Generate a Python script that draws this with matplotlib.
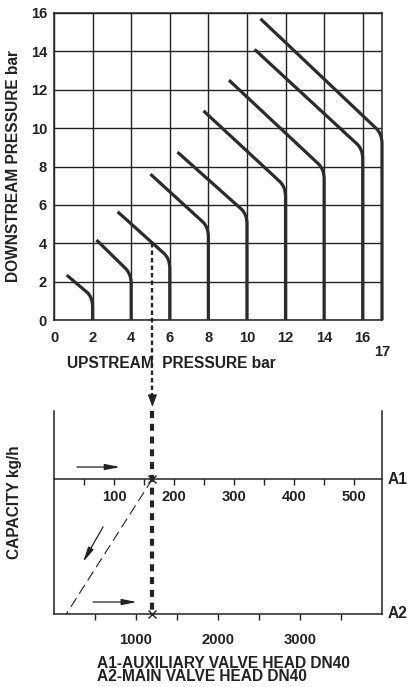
import matplotlib
matplotlib.use('Agg')
import matplotlib.pyplot as plt
import numpy as np
from matplotlib.path import Path
from matplotlib.patches import PathPatch
from matplotlib import transforms

plt.rcParams['font.family'] = ['Liberation Sans', 'DejaVu Sans']
plt.rcParams['font.weight'] = 'bold'
plt.rcParams['lines.scale_dashes'] = False

# ---------------- data ----------------
upstream = [2, 4, 6, 8, 10, 12, 14, 16, 17]            # bar (vertical part of each curve)
start_x = [0.66, 2.2, 3.3, 5.0, 6.4, 7.75, 9.07, 10.4, 10.7]
start_y = [2.34, 4.17, 5.64, 7.6, 8.75, 10.9, 12.5, 14.1, 15.7]
knee_y = [1.2, 2.4, 3.2, 4.85, 5.52, 6.94, 7.86, 8.9, 9.7]

x_ticks = [0, 2, 4, 6, 8, 10, 12, 14, 16]
x_extra_tick = [17]
y_ticks = [0, 2, 4, 6, 8, 10, 12, 14, 16]

A1_MAX = 547      # kg/h, auxiliary valve head scale
A2_MAX = 4000     # kg/h, main valve head scale
a1_ticks = [50, 100, 150, 200, 250, 300, 350, 400, 450, 500]
a1_labels = [100, 200, 300, 400, 500]
a2_ticks = [500, 1000, 1500, 2000, 2500, 3000, 3500]
a2_labels = [1000, 2000, 3000]

ex_upstream = 5.1     # example reading
ex_downstream = 4.0
diag_a2 = 150         # where the dashed guide reaches the A2 line

C = '#222222'

# ---------------- figure ----------------
W, H = 415, 687
fig = plt.figure(figsize=(W / 100, H / 100), dpi=100)

def rect(l, t, r, b):
    return [l / W, 1 - b / H, (r - l) / W, (b - t) / H]

TFS = 10.6   # tick label size
fs = 11.2    # label size

ax = fig.add_axes(rect(54, 13, 382, 320))
ax.set_xlim(0, 17)
ax.set_ylim(0, 16)
ax.set_xticks(x_ticks)
ax.set_yticks(y_ticks)
ax.set_xticks(x_extra_tick, minor=True)
ax.set_xticklabels([str(v) for v in x_extra_tick], minor=True)
ax.grid(True, which='major', color=C, lw=1.0)
ax.set_axisbelow(True)
for s in ax.spines.values():
    s.set_color(C)
    s.set_linewidth(1.1)
ax.tick_params(axis='both', which='both', length=0, labelsize=TFS, colors='#222222')
ax.tick_params(axis='x', which='major', pad=8)
ax.tick_params(axis='x', which='minor', pad=18)
ax.tick_params(axis='y', pad=5)

for P, xs, ys, yk in zip(upstream, start_x, start_y, knee_y):
    m = (yk - ys) / (P - xs)
    r = 0.3
    verts = [(xs, ys), (P - r, yk - m * r), (P, yk), (P, yk - 0.5), (P, 0)]
    codes = [Path.MOVETO, Path.LINETO, Path.CURVE3, Path.CURVE3, Path.LINETO]
    ax.add_patch(PathPatch(Path(verts, codes), fill=False, lw=2.3, ec='#2b2b2b',
                           capstyle='butt', joinstyle='round', clip_on=False, zorder=3))

# ---------------- lower nomogram ----------------
axb = fig.add_axes(rect(54, 411, 382, 614))
axb.set_xlim(0, A2_MAX)
axb.set_ylim(0, 1)
axb.patch.set_visible(False)
axb.spines['top'].set_visible(False)
for k in ('left', 'right', 'bottom'):
    axb.spines[k].set_color(C)
    axb.spines[k].set_linewidth(1.1)
axb.set_yticks([])
axb.set_xticks(a2_ticks)
axb.set_xticklabels([str(v) if v in a2_labels else '' for v in a2_ticks])
axb.tick_params(axis='x', direction='out', length=4.5, width=1.0, pad=9,
                labelsize=TFS, colors=C)

Y_A1 = (614 - 479) / (614 - 411)
pos = axb.get_position()
ax1 = fig.add_axes([pos.x0, pos.y0 + Y_A1 * pos.height, pos.width, 1e-6])
ax1.set_xlim(0, A1_MAX)
ax1.patch.set_visible(False)
for k in ('top', 'left', 'right'):
    ax1.spines[k].set_visible(False)
ax1.spines['bottom'].set_color(C)
ax1.spines['bottom'].set_linewidth(1.1)
ax1.set_yticks([])
ax1.set_xticks(a1_ticks)
ax1.set_xticklabels([str(v) if v in a1_labels else '' for v in a1_ticks])
ax1.tick_params(axis='x', direction='out', length=4.0, width=1.0, pad=4,
                labelsize=TFS, colors=C)

# example reading path
x_ex = ex_upstream / 17 * A2_MAX
trans = transforms.blended_transform_factory(ax.transData, axb.transAxes)
y_top = axb.transAxes.inverted().transform(
    ax.transData.transform((ex_upstream, ex_downstream)))[1]
tip, base = 1.02, 1.075
axb.plot([ex_upstream, ex_upstream], [y_top, base], transform=trans, color=C,
         lw=1.7, dashes=(3.2, 2.2), clip_on=False, zorder=5)
axb.annotate('', xy=(ex_upstream, tip), xytext=(ex_upstream, base + 0.005),
             xycoords=trans, textcoords=trans,
             arrowprops=dict(arrowstyle='-|>,head_length=0.75,head_width=0.28',
                             color=C, lw=0.8, shrinkA=0, shrinkB=0), annotation_clip=False)
axb.plot([ex_upstream, ex_upstream], [1.0, 0.02], transform=trans, color=C,
         lw=3.0, dashes=(5.0, 4.2), clip_on=False, zorder=5)

axb.plot([x_ex, diag_a2], [Y_A1, 0], color=C, lw=0.8, dashes=(7.5, 3.8), zorder=4)
axb.plot([x_ex, x_ex], [Y_A1, 0], ls='none', marker='x', ms=6, mew=1.0, color=C,
         zorder=6, clip_on=False)

arrow_kw = dict(arrowstyle='-|>,head_length=0.9,head_width=0.18', color=C, lw=0.9,
                shrinkA=0, shrinkB=0)
axb.annotate('', xy=(805, 0.724), xytext=(280, 0.724), arrowprops=arrow_kw)
axb.annotate('', xy=(1010, 0.059), xytext=(475, 0.059), arrowprops=arrow_kw)
axb.annotate('', xy=(354, 0.256), xytext=(598, 0.429), arrowprops=arrow_kw)

# ---------------- texts ----------------
fig.text(14 / W, 1 - 166 / H, 'DOWNSTREAM PRESSURE bar', rotation=90, ha='center',
         va='center', fontsize=fs, color=C)
fig.text(67 / W, 1 - 363 / H, 'UPSTREAM  PRESSURE bar', ha='left', va='center',
         fontsize=fs, color=C)
fig.text(14 / W, 1 - 502 / H, 'CAPACITY kg/h', rotation=90, ha='center', va='center',
         fontsize=fs, color=C)
fig.text(398 / W, 1 - 479 / H, 'A1', ha='center', va='center', fontsize=fs, color=C)
fig.text(398 / W, 1 - 614 / H, 'A2', ha='center', va='center', fontsize=fs, color=C)
fig.text(97 / W, 1 - 670 / H, 'A1-AUXILIARY VALVE HEAD DN40\nA2-MAIN VALVE HEAD DN40',
         ha='left', va='center', fontsize=fs, color=C, linespacing=0.88)

fig.savefig('out.png', dpi=100)
